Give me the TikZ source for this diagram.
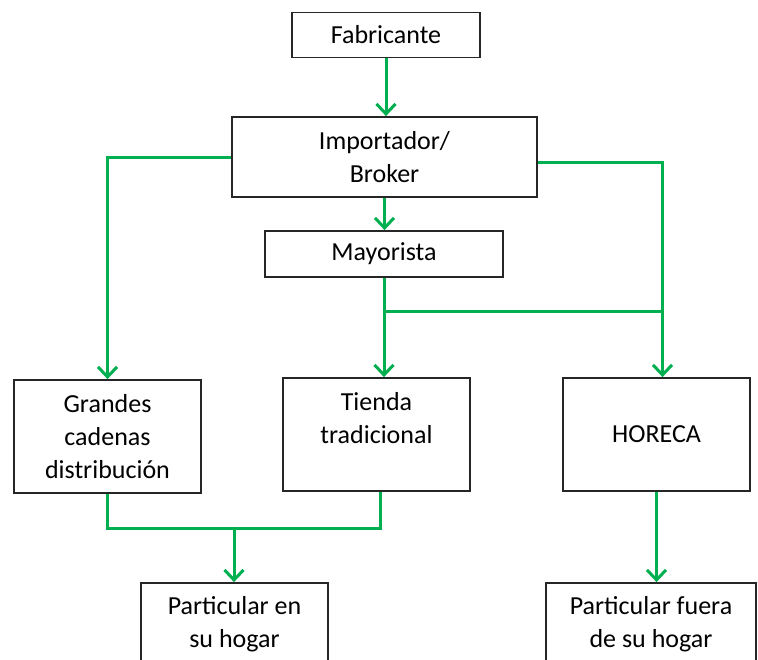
\documentclass[tikz,border=0pt]{standalone}
\usepackage{fontspec}
\setmainfont{Carlito}
\usetikzlibrary{arrows.meta}
\definecolor{flowgreen}{RGB}{0,176,80}
\begin{document}
\begin{tikzpicture}[x=1pt,y=-1pt,
  box/.style={draw=black!85,line width=1.8pt,inner sep=0pt,align=center,
    font=\fontsize{26}{33}\selectfont},
  conn/.style={draw=flowgreen,line width=3pt},
  arr/.style={conn,-{Straight Barb[length=10pt,width=19pt,line width=3pt]}}]
\useasboundingbox (0,0) rectangle (758,659);
\clip (0,0) rectangle (758,659);
\node[box,minimum width=188,minimum height=45] (fab) at (386,35) {Fabricante};
\node[box,minimum width=305,minimum height=80] (imp) at (384.5,157) {Importador/\\Broker};
\node[box,minimum width=238,minimum height=46] (may) at (384,254) {Mayorista};
\node[box,minimum width=187,minimum height=113] (gcd) at (107.5,436.5) {Grandes\\cadenas\\distribución};
\node[box,minimum width=187,minimum height=113] (tie) at (376.5,434.5) {Tienda\\tradicional\\\mbox{}};
\node[box,minimum width=187,minimum height=113] (hor) at (656.5,434.5) {HORECA};
\node[box,minimum width=187,minimum height=83] (part1) at (234.5,624.5) {Particular en\\su hogar};
\node[box,minimum width=210,minimum height=83] (part2) at (651,624.5) {Particular fuera\\de su hogar};
\coordinate (j1) at (384,311);
\coordinate (j2) at (234,528);
% connectors
\draw[arr] (fab.south) -- (fab.south |- imp.north);
\draw[arr] (imp.south) -- (imp.south |- may.north);
\draw[arr] (imp.west) -| (gcd.north);
\draw[arr] ([yshift=-5pt]imp.east) -| ([xshift=6pt]hor.north);
\draw[arr] (may.south) -- (may.south |- tie.north);
\draw[conn] (j1) -- ([xshift=6pt]hor.north |- j1);
\draw[conn] (gcd.south) |- (j2) -| ([xshift=3.5pt]tie.south);
\draw[arr] (j2) -- (j2 |- part1.north);
\draw[arr] (hor.south) -- (hor.south |- part2.north);
\end{tikzpicture}
\end{document}
